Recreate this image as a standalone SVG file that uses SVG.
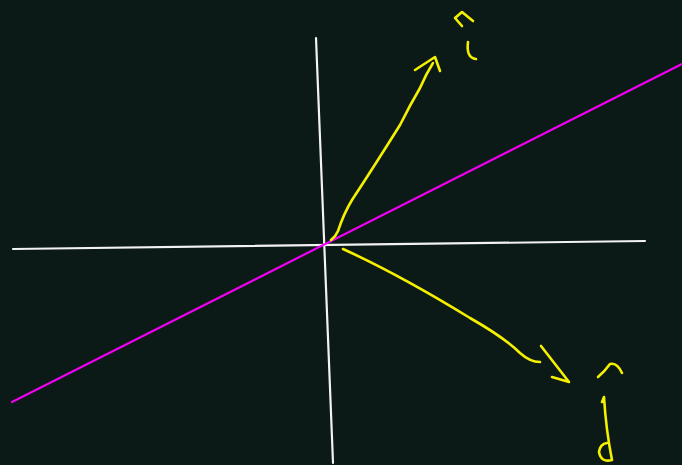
<svg xmlns="http://www.w3.org/2000/svg" width="682" height="465" viewBox="0 0 682 465">
<style>
.bg{fill:#0b1a17}
.ax{stroke:#f2f2f2;stroke-width:2.2;fill:none;stroke-linecap:round}
.mg{stroke:#f000f0;stroke-width:2.2;fill:none;stroke-linecap:round}
.y{stroke:#f5f000;stroke-width:2.6;fill:none;stroke-linecap:round;stroke-linejoin:round}
</style>
<rect class="bg" x="0" y="0" width="682" height="465"/>
<g id="axes">
<path class="ax" d="M316,38 L333,463"/>
<path class="ax" d="M13,249 L645,241"/>
</g>
<g id="line">
<path class="mg" d="M12,402 L682,64"/>
</g>
<g id="connectors">
<path class="y" d="M331,240 Q336,236 338,231 Q344,213 352,200 Q375,165 400,125 Q410,105 420,88 Q426,74 433,63"/>
<path class="y" d="M415,70 L435,57 L440,71"/>
<path class="y" d="M343,249 Q400,275 470,318 Q505,338 520,353 Q530,362 540,362"/>
<path class="y" d="M541,346 L569,382 L552,377"/>
</g>
<g id="i-hat">
<path class="y" d="M462,26 L455,18 L462,12 L473,21"/>
<path class="y" d="M468,42 Q466,58 476,59"/>
</g>
<g id="j-hat">
<path class="y" d="M598,377 Q605,371 610,364 Q617,362 622,373"/>
<path class="y" d="M602,402 L604,397 Q606,430 612,460 Q601,463 599,452 Q600,444 607,443"/>
</g>
</svg>
